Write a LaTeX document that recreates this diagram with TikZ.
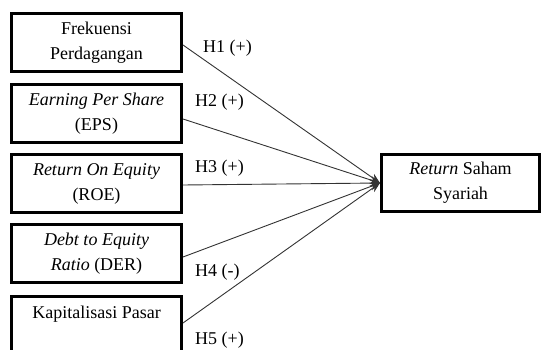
\documentclass[tikz,border=0pt]{standalone}
\usepackage{fontspec}
\setmainfont{Liberation Serif}
\usetikzlibrary{arrows.meta}
\begin{document}
\begin{tikzpicture}[x=1pt,y=-1pt,
  box/.style={draw=black,line width=3pt,fill=white,minimum width=170pt,minimum height=58pt,align=center,inner sep=0pt,font=\fontsize{18}{25}\selectfont},
  rbox/.style={draw=black,line width=3pt,fill=white,minimum width=158pt,minimum height=57pt,align=center,inner sep=0pt,font=\fontsize{18}{25}\selectfont},
  conn/.style={draw=black!80,line width=0.9pt,-{Stealth[length=10pt,width=8pt]}},
  hlab/.style={anchor=west,inner sep=0pt,font=\fontsize{18}{20}\selectfont}]
\useasboundingbox (0,0) rectangle (542,350);
\begin{scope}
\clip (0,0) rectangle (542,350);
\node[box] (b1) at (96.5,43) {Frekuensi\\Perdagangan};
\node[box] (b2) at (96.5,114) {\textit{Earning Per Share}\\(EPS)};
\node[box] (b3) at (96.5,183.5) {\textit{Return On Equity}\\(ROE)};
\node[box] (b4) at (96.5,254) {\textit{Debt to Equity}\\\textit{Ratio} (DER)};
\node[box] (b5) at (96.5,326) {};
\node[font=\fontsize{18}{25}\selectfont,inner sep=0pt] (t5) at (96.5,314) {Kapitalisasi\ Pasar};
\node[rbox] (r) at (460.5,183) {\textit{Return} Saham\\Syariah};
\draw[conn] (b1.east |- 0,45) -- (r.west);
\draw[conn] (b2.east |- 0,119) -- (r.west);
\draw[conn] (b3.east |- 0,185) -- (r.west);
\draw[conn] (b4.east |- 0,257) -- (r.west);
\draw[conn] (b5.east |- 0,323) -- (r.west);
\node[hlab] (h1) at (203,48) {H1 (+)};
\node[hlab] (h2) at (195,102) {H2 (+)};
\node[hlab] (h3) at (195,168) {H3 (+)};
\node[hlab] (h4) at (195,272) {H4 (-)};
\node[hlab] (h5) at (195,340) {H5 (+)};
\end{scope}
\end{tikzpicture}
\end{document}
